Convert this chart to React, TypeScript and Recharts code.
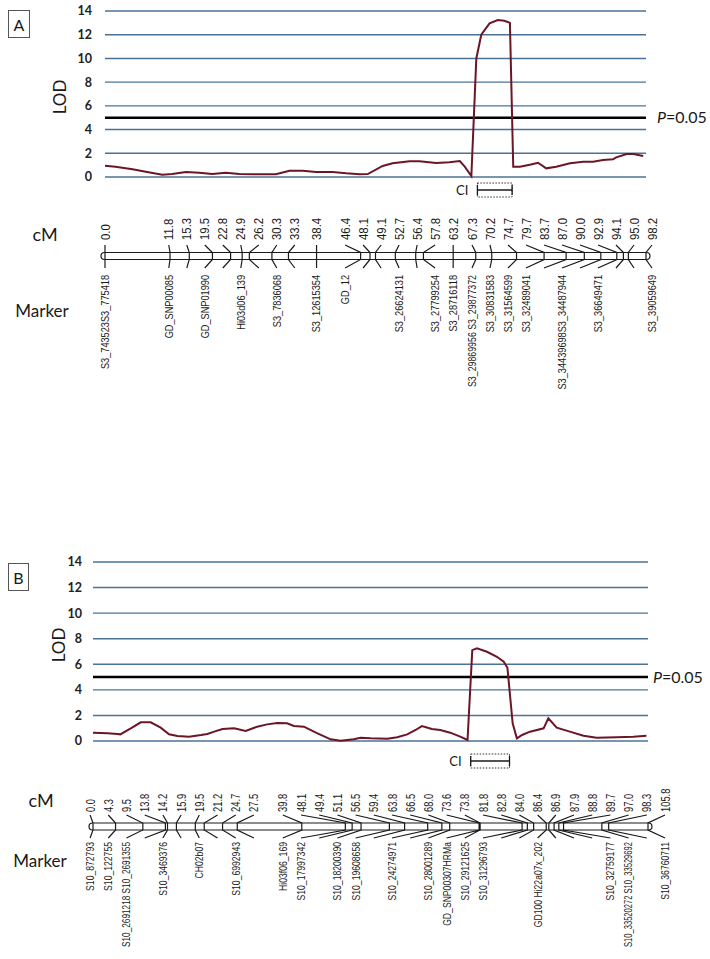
import React from "react";
import {
  CartesianGrid,
  ComposedChart,
  Line,
  ReferenceArea,
  ReferenceLine,
  Scatter,
  XAxis,
  YAxis,
} from "recharts";

// ---- Panel A: LOD profile + linkage group 3 ----
const A_LOD_CM = [0, 1.9, 5.0, 7.4, 10.4, 12.2, 14.7, 17.1, 19.5, 21.9, 24.4, 26.8, 31.0, 33.5, 35.9, 38.3, 41.3, 43.8, 46.2, 47.7, 50.4, 52.2, 55.3, 57.1, 60.1, 62.5, 64.4, 65.3, 66.5, 67.4, 68.3, 69.8, 71.3, 72.5, 73.5, 74.1, 75.3, 77.1, 78.6, 80.1, 81.9, 84.4, 86.8, 88.6, 90.4, 92.2, 92.8, 94.7, 95.9, 97.7];
const A_LOD = [0.95, 0.87, 0.65, 0.45, 0.2, 0.25, 0.42, 0.36, 0.25, 0.36, 0.25, 0.23, 0.23, 0.53, 0.53, 0.42, 0.42, 0.31, 0.23, 0.25, 0.93, 1.16, 1.32, 1.32, 1.18, 1.24, 1.35, 0.87, 0.08, 10.0, 12.0, 12.96, 13.24, 13.18, 13.0, 0.87, 0.87, 1.04, 1.2, 0.73, 0.87, 1.16, 1.29, 1.29, 1.43, 1.49, 1.66, 1.94, 1.94, 1.77];
const A_MAP_CM = [0.0, 11.8, 15.3, 19.5, 22.8, 24.9, 26.2, 30.3, 33.3, 38.4, 46.4, 48.1, 49.1, 52.7, 56.4, 57.8, 63.2, 67.3, 70.2, 74.7, 79.7, 83.7, 87.0, 90.0, 92.9, 94.1, 95.0, 98.2];
const A_MARKERS = [
  "S3_743523S3_775418", "GD_SNP00085", "", "GD_SNP01990", "", "Hi03d06_139", "", "S3_7836068", "",
  "S3_12615354", "GD_12", "", "", "S3_26624131", "", "S3_27799254", "S3_28716118",
  "S3_29869956 S3_29877372", "S3_30831583", "S3_31564599", "S3_32489041", "",
  "S3_34439698S3_34487944", "", "S3_36649471", "", "", "S3_39059649",
];
const A_CI = [67.6, 73.9];

// ---- Panel B: LOD profile + linkage group 10 ----
const B_LOD_CM = [0, 2.8, 4.7, 5.2, 7.2, 9.1, 11.0, 12.9, 14.5, 16.1, 18.3, 20.6, 21.8, 23.1, 24.7, 26.9, 29.1, 31.3, 33.2, 35.1, 37.0, 38.3, 40.2, 42.8, 45.3, 47.2, 49.7, 51.0, 52.9, 56.1, 58.0, 59.9, 61.5, 62.7, 64.6, 66.2, 68.1, 70.0, 71.4, 72.3, 73.2, 75.1, 77.0, 78.3, 79.0, 80.0, 80.8, 81.8, 83.3, 85.9, 86.8, 88.4, 90.9, 93.5, 96.0, 99.8, 103.0, 105.5];
const B_LOD = [0.65, 0.6, 0.55, 0.52, 0.99, 1.46, 1.46, 1.04, 0.52, 0.39, 0.34, 0.47, 0.55, 0.73, 0.94, 0.99, 0.78, 1.12, 1.3, 1.41, 1.38, 1.17, 1.12, 0.6, 0.13, 0.02, 0.13, 0.25, 0.21, 0.18, 0.29, 0.52, 0.86, 1.17, 0.94, 0.86, 0.65, 0.34, 0.08, 7.11, 7.25, 6.98, 6.59, 6.2, 5.73, 1.38, 0.21, 0.47, 0.73, 0.99, 1.77, 1.04, 0.73, 0.41, 0.26, 0.29, 0.34, 0.41];
const B_MAP_CM = [0.0, 4.3, 9.5, 13.8, 14.2, 15.9, 19.5, 21.2, 24.7, 27.5, 39.8, 48.1, 49.4, 51.1, 56.5, 59.4, 63.8, 66.5, 68.0, 73.6, 73.8, 81.8, 82.8, 84.0, 86.4, 86.9, 87.9, 88.8, 89.7, 97.0, 98.3, 105.8];
const B_MARKERS = [
  "S10_872793", "S10_122755", "S10_2691218 S10_2691355", "", "S10_3469376", "", "CH02b07", "",
  "S10_6992943", "", "Hi03f06_169", "S10_17997342", "", "S10_18200390", "S10_19608658", "",
  "S10_24274971", "", "S10_28001289", "GD_SNP00307HRMa", "S10_29121625", "S10_31296793", "", "",
  "GD100 Hi22a07x_202", "", "", "", "S10_32759177", "S10_33520272 S10_33529692", "", "S10_36760711",
];
const B_CI = [72.0, 79.4];

const LOD_TICKS = [0, 2, 4, 6, 8, 10, 12, 14];
const THRESHOLD = 5;

const GRID = "#4b7397";
const CURVE = "#6b1626";
const INK = "#1a1a1a";
const SANS = "Lato, 'Open Sans', sans-serif";
const MAP_FONT = "'Liberation Sans', Arial, sans-serif";

// labels on the map are pushed apart so they keep a minimum spacing
// (pool-adjacent-violators on pos[i] - i*gap, then clamped to [lo, hi])
function spreadLabels(pos: number[], gap: number, lo: number, hi: number) {
  const blocks: { sum: number; count: number; start: number }[] = [];
  pos.forEach((p, i) => {
    blocks.push({ sum: p - i * gap, count: 1, start: i });
    while (blocks.length > 1) {
      const b = blocks[blocks.length - 1];
      const a = blocks[blocks.length - 2];
      if (a.sum / a.count <= b.sum / b.count) break;
      a.sum += b.sum;
      a.count += b.count;
      blocks.pop();
    }
  });
  const qMax = hi - (pos.length - 1) * gap;
  const out: number[] = [];
  blocks.forEach((b) => {
    const q = Math.min(Math.max(b.sum / b.count, lo), qMax);
    for (let k = 0; k < b.count; k++) out.push(q + (b.start + k) * gap);
  });
  return out;
}

function Tag({ x, y, size, rotate = 0, children, style }: any) {
  return (
    <div
      style={{
        position: "absolute",
        left: x,
        top: y,
        transform: `translate(-50%, -50%) rotate(${rotate}deg)`,
        fontFamily: SANS,
        fontSize: size,
        lineHeight: 1,
        whiteSpace: "nowrap",
        color: INK,
        ...style,
      }}
    >
      {children}
    </div>
  );
}

function Panel({ cfg }: any) {
  const t = cfg.track;
  const pxPerCm = (cfg.plotRight - cfg.plotLeft) / cfg.maxCm;
  const padCm = 10;
  const lodData = cfg.lodCm.map((cm: number, i: number) => ({ cm, lod: cfg.lod[i] }));
  const labelCm = spreadLabels(
    cfg.mapCm,
    cfg.labelGap / pxPerCm,
    -padCm,
    cfg.maxCm + cfg.labelOver / pxPerCm
  );
  const links = cfg.mapCm.flatMap((cm: number, i: number) => [
    { x: labelCm[i], y: t.linkTop },
    { x: cm, y: -t.barHalf },
    { x: cm, y: t.barHalf },
    { x: labelCm[i], y: t.linkBottom },
    { x: labelCm[i], y: null },
  ]);
  const cmLabels = cfg.mapCm.map((cm: number, i: number) => ({
    x: labelCm[i],
    y: t.cmText,
    text: cm.toFixed(1),
  }));
  const nameLabels = cfg.markers
    .map((m: string, i: number) => ({ x: labelCm[i], y: t.nameTop, text: m }))
    .filter((d: any) => d.text);

  const cmShape = (p: any) => (
    <text
      transform={`translate(${p.cx},${p.cy}) rotate(-90) scale(${cfg.cmFont[1]},1)`}
      textAnchor="start"
      dominantBaseline="central"
      fontFamily={MAP_FONT}
      fontSize={cfg.cmFont[0]}
      fill={INK}
    >
      {p.payload.text}
    </text>
  );
  const nameShape = (p: any) => {
    const len = p.payload.text.length;
    const fs = cfg.nameFont[0] * Math.min(1, 22 / len);
    return (
      <text
        transform={`translate(${p.cx},${p.cy}) rotate(-90) scale(${cfg.nameFont[1]},1)`}
        textAnchor="end"
        dominantBaseline="central"
        fontFamily={MAP_FONT}
        fontSize={fs}
        fill={INK}
      >
        {p.payload.text}
      </text>
    );
  };
  const barShape = (p: any) => (
    <rect
      x={p.x - 4}
      y={p.y}
      width={p.width + 8}
      height={p.height}
      rx={p.height / 2}
      fill="none"
      stroke={INK}
      strokeWidth={1.2}
    />
  );
  const ciShape = (p: any) => {
    const mid = p.y + p.height / 2;
    return (
      <g>
        <rect x={p.x} y={p.y} width={p.width} height={p.height} fill="none" stroke="#333" strokeWidth={1} strokeDasharray="1.5 1.5" />
        <line x1={p.x} x2={p.x + p.width} y1={mid} y2={mid} stroke={INK} strokeWidth={1.3} />
        <line x1={p.x} x2={p.x} y1={mid - 5} y2={mid + 5} stroke={INK} strokeWidth={1.3} />
        <line x1={p.x + p.width} x2={p.x + p.width} y1={mid - 5} y2={mid + 5} stroke={INK} strokeWidth={1.3} />
        <text x={p.x - 9} y={mid} dy="0.35em" textAnchor="end" fontFamily={SANS} fontSize={13} fill={INK}>
          CI
        </text>
      </g>
    );
  };
  const pLabel = (props: any) => {
    const vb = props.viewBox;
    return (
      <text x={vb.x + vb.width + cfg.pGap} y={vb.y} dy="0.36em" fontFamily={SANS} fontSize={16} fill={INK}>
        <tspan fontStyle="italic">P</tspan>=0.05
      </text>
    );
  };

  const yAxisW = 40;
  const mapH = cfg.mapDomain[1] - cfg.mapDomain[0];

  return (
    <>
      <div style={{ position: "absolute", left: 0, top: cfg.lodTop }}>
        <ComposedChart
          width={710}
          height={cfg.lodHeight}
          data={lodData}
          margin={{ top: cfg.lodMargin[0], bottom: cfg.lodMargin[1], left: cfg.plotLeft - yAxisW, right: 710 - cfg.plotRight }}
        >
          <CartesianGrid vertical={false} stroke={GRID} strokeWidth={1.4} />
          <XAxis type="number" dataKey="cm" domain={[0, cfg.maxCm]} hide />
          <YAxis
            type="number"
            domain={[0, 14]}
            ticks={LOD_TICKS}
            interval={0}
            width={yAxisW}
            axisLine={false}
            tickLine={false}
            tickSize={cfg.tickGap - 3}
            tickMargin={3}
            tick={{ fontFamily: SANS, fontSize: 12.5, fontWeight: 700, fill: "#222" }}
          />
          <ReferenceLine y={THRESHOLD} stroke="#000" strokeWidth={2.6} label={pLabel} />
          <Line type="linear" dataKey="lod" stroke={CURVE} strokeWidth={2} dot={false} isAnimationActive={false} />
        </ComposedChart>
      </div>
      <div style={{ position: "absolute", left: 0, top: cfg.mapTop }}>
        <ComposedChart
          width={710}
          height={mapH}
          margin={{
            top: 0,
            bottom: 0,
            left: cfg.plotLeft - padCm * pxPerCm,
            right: 710 - cfg.plotRight - padCm * pxPerCm,
          }}
        >
          <XAxis type="number" dataKey="x" domain={[-padCm, cfg.maxCm + padCm]} hide />
          <YAxis type="number" dataKey="y" domain={cfg.mapDomain} reversed hide />
          <ReferenceArea x1={cfg.ci[0]} x2={cfg.ci[1]} y1={t.ci - 7} y2={t.ci + 7} shape={ciShape} />
          <ReferenceArea x1={0} x2={cfg.maxCm} y1={-t.barHalf} y2={t.barHalf} shape={barShape} />
          <Line
            data={links}
            type="linear"
            dataKey="y"
            stroke={INK}
            strokeWidth={1.2}
            dot={false}
            isAnimationActive={false}
          />
          <Scatter data={cmLabels} shape={cmShape} isAnimationActive={false} />
          <Scatter data={nameLabels} shape={nameShape} isAnimationActive={false} />
        </ComposedChart>
      </div>
      <div
        style={{
          position: "absolute",
          left: cfg.box[0],
          top: cfg.box[1],
          width: cfg.box[2],
          height: cfg.box[3],
          border: "1px solid #555",
          boxSizing: "border-box",
          fontFamily: SANS,
          fontSize: 16,
          display: "flex",
          alignItems: "center",
          justifyContent: "center",
          color: INK,
        }}
      >
        {cfg.letter}
      </div>
      <Tag x={cfg.lodLabel[0]} y={cfg.lodLabel[1]} size={17} rotate={-90}>
        LOD
      </Tag>
      <Tag x={cfg.cmTag[0]} y={cfg.cmTag[1]} size={18}>
        cM
      </Tag>
      <Tag x={cfg.markerTag[0]} y={cfg.markerTag[1]} size={17}>
        Marker
      </Tag>
    </>
  );
}

const PANEL_A = {
  letter: "A",
  lodCm: A_LOD_CM,
  lod: A_LOD,
  mapCm: A_MAP_CM,
  markers: A_MARKERS,
  ci: A_CI,
  maxCm: 98.2,
  plotLeft: 105,
  plotRight: 646,
  lodTop: 0,
  lodHeight: 190,
  lodMargin: [11, 13],
  tickGap: 13,
  pGap: 11,
  mapTop: 180,
  mapDomain: [-76, 204],
  track: { ci: -66, cmText: -16, linkTop: -11, barHalf: 3.5, linkBottom: 12, nameTop: 19 },
  labelGap: 18,
  labelOver: 6,
  cmFont: [12, 0.95],
  nameFont: [11.5, 0.8],
  box: [8, 10, 22, 28],
  lodLabel: [59, 97],
  cmTag: [45, 234],
  markerTag: [42, 310],
};

const PANEL_B = {
  letter: "B",
  lodCm: B_LOD_CM,
  lod: B_LOD,
  mapCm: B_MAP_CM,
  markers: B_MARKERS,
  ci: B_CI,
  maxCm: 105.8,
  plotLeft: 93,
  plotRight: 648,
  lodTop: 550,
  lodHeight: 203,
  lodMargin: [12, 12],
  tickGap: 11,
  pGap: 5,
  mapTop: 748,
  mapDomain: [-78.5, 132.5],
  track: { ci: -65.5, cmText: -14.5, linkTop: -11.5, barHalf: 3.5, linkBottom: 11.5, nameTop: 15.5 },
  labelGap: 18.2,
  labelOver: 17,
  cmFont: [12.5, 0.75],
  nameFont: [11.5, 0.75],
  box: [8, 563, 21, 28],
  lodLabel: [58, 645],
  cmTag: [41, 800],
  markerTag: [40, 860],
};

export default function App() {
  return (
    <div style={{ position: "absolute", left: 0, top: 0, width: 710, height: 959, background: "#fff", overflow: "hidden" }}>
      <Panel cfg={PANEL_A} />
      <Panel cfg={PANEL_B} />
    </div>
  );
}
